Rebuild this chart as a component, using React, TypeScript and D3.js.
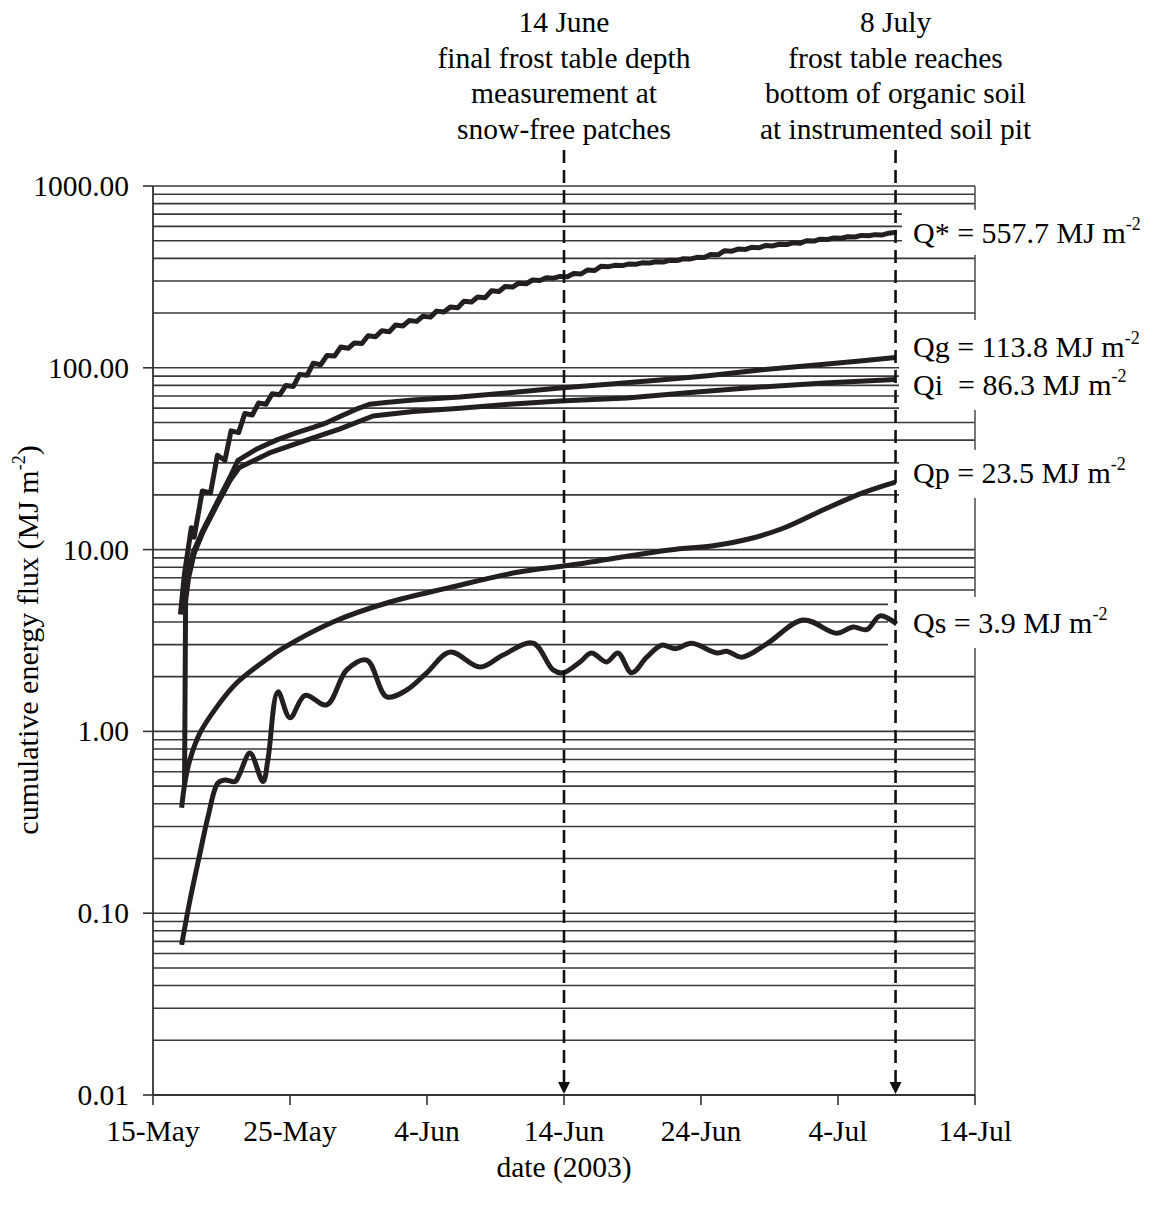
import React from 'react';
import * as d3 from 'd3';

// Cumulative energy fluxes, spring 2003. Each point is [days after 15 May, MJ m-2].
const qStar: [number, number][] = [
  [2.0, 4.4], [2.3, 7.4], [2.8, 13.2], [3.0, 11.7], [3.6, 21], [4.2, 20.5], [4.7, 33], [5.25, 31],
  [5.7, 45], [6.25, 44], [6.7, 56], [7.25, 55], [7.7, 64], [8.25, 63], [8.7, 72], [9.25, 71],
  [9.7, 80], [10.25, 79], [10.7, 92], [11.25, 91], [11.7, 106], [12.25, 104], [12.7, 117], [13.25, 116],
  [13.7, 130], [14.25, 128], [14.7, 137], [15.25, 136], [15.7, 150], [16.25, 148], [16.7, 160], [17.25, 158],
  [17.7, 172], [18.25, 170], [18.7, 182], [19.25, 180], [19.7, 192], [20.25, 190], [20.7, 205], [21.25, 203],
  [21.7, 216], [22.25, 214], [22.7, 232], [23.25, 230], [23.7, 245], [24.25, 243], [24.7, 265], [25.25, 263],
  [25.7, 280], [26.25, 278], [26.7, 292], [27.25, 290], [27.7, 304], [28.25, 302], [28.7, 313], [29.25, 311],
  [29.7, 318], [30.25, 317], [30.7, 330], [31.25, 328], [31.7, 345], [32.25, 343], [32.7, 362], [33.25, 360],
  [33.7, 366], [34.25, 365], [34.7, 372], [35.25, 371], [35.7, 378], [36.25, 377], [36.7, 383], [37.25, 382],
  [37.7, 390], [38.25, 389], [38.7, 398], [39.25, 397], [39.7, 405], [40.25, 404], [40.7, 420], [41.25, 418],
  [41.7, 440], [42.25, 438], [42.7, 450], [43.25, 448], [43.7, 460], [44.25, 458], [44.7, 470], [45.25, 468],
  [45.7, 478], [46.25, 476], [46.7, 487], [47.25, 485], [47.7, 500], [48.25, 498], [48.7, 510], [49.25, 508],
  [49.7, 518], [50.25, 516], [50.7, 526], [51.25, 524], [51.7, 535], [52.25, 533], [52.7, 540], [53.25, 538],
  [53.7, 550], [54.3, 557.7],
];

const qg: [number, number][] = [
  [2.15, 4.8], [2.46, 6.8], [2.92, 9.6], [3.65, 12.8], [4.65, 18], [5.62, 25], [6.2, 31], [7.5, 35.5],
  [9.0, 40], [10.5, 44], [11.7, 47], [12.7, 50], [13.65, 54], [14.8, 59], [15.8, 63], [17, 64.5],
  [19, 66.5], [22.4, 69], [26, 73], [29.7, 77.4], [33, 81], [37, 85.7], [40.5, 90.5], [44.3, 97.3],
  [48, 103], [51.6, 109], [54.2, 113.8],
];

const qi: [number, number][] = [
  [2.3, 0.5], [2.38, 5.2], [2.6, 7.0], [3.0, 9.5], [3.65, 12.5], [4.65, 17.5], [5.62, 24], [6.3, 28.3],
  [8.5, 34], [11.2, 40], [13.6, 46], [16.06, 54.3], [19, 57.5], [22.4, 60], [26, 63], [29.7, 65.6],
  [34.6, 68.2], [39, 73], [44.3, 78.4], [49, 82.5], [54.2, 86.3],
];

const qp: [number, number][] = [
  [2.09, 0.38], [2.34, 0.53], [2.7, 0.7], [3.43, 0.98], [4.65, 1.36], [6.12, 1.85], [8.54, 2.57],
  [9.49, 2.87], [13.14, 4.0], [17.3, 5.15], [21.7, 6.2], [26.6, 7.5], [30.4, 8.2], [37.7, 9.95],
  [40.9, 10.5], [43.4, 11.4], [46.0, 13.1], [48.9, 16.5], [51.8, 20.5], [54.2, 23.5],
];

const qs: [number, number][] = [
  [2.09, 0.067], [2.7, 0.118], [3.43, 0.214], [4.01, 0.338], [4.74, 0.52], [5.26, 0.54], [5.99, 0.53],
  [6.35, 0.59], [7.08, 0.76], [8.03, 0.53], [8.39, 0.7], [9.12, 1.65], [10.0, 1.19], [11.1, 1.58],
  [12.68, 1.4], [14.14, 2.18], [15.6, 2.47], [17.06, 1.55], [18.52, 1.69], [19.98, 2.1], [21.68, 2.73],
  [23.87, 2.26], [25.55, 2.63], [27.74, 3.06], [29.2, 2.18], [29.93, 2.1], [31.17, 2.41], [32.0, 2.7],
  [33.1, 2.41], [33.94, 2.7], [34.94, 2.1], [36.04, 2.56], [37.13, 2.98], [38.1, 2.85], [39.32, 3.05],
  [41.15, 2.7], [41.88, 2.76], [42.97, 2.56], [44.8, 3.03], [47.45, 4.1], [49.9, 3.47], [51.1, 3.75],
  [52.1, 3.63], [53.07, 4.32], [54.28, 3.9],
];

const xTickDays = [0, 10, 20, 30, 40, 50, 60];
const yTickValues = [0.01, 0.1, 1, 10, 100, 1000];

const markerDays = [30, 54.2];
const markerNotes = [
  ['14 June', 'final frost table depth', 'measurement at', 'snow-free patches'],
  ['8 July', 'frost table reaches', 'bottom of organic soil', 'at instrumented soil pit'],
];

const seriesNames = ['Q*', 'Qg', 'Qi ', 'Qp', 'Qs'];

const START = Date.UTC(2003, 4, 15);
const toDate = (d: number) => new Date(START + d * 864e5);

const FONT = '"Liberation Serif", "Times New Roman", serif';
const INK = '#231f20';

export default function App() {
  const left = 153, right = 975, top = 186, bottom = 1095;
  const x = d3.scaleUtc().domain([toDate(0), toDate(60)]).range([left, right]);
  const y = d3.scaleLog().domain([0.01, 1000]).range([bottom, top]);
  const fmtDate = d3.utcFormat('%-d-%b');
  const fmtY = d3.format('.2f');

  const gridValues: number[] = [];
  for (let e = -2; e < 3; e++) for (let m = 1; m < 10; m++) gridValues.push(m * Math.pow(10, e));
  gridValues.push(1000);

  const lineLinear = d3.line<[number, number]>().x(d => x(toDate(d[0]))).y(d => y(d[1]));
  const lineSmooth = d3.line<[number, number]>().x(d => x(toDate(d[0]))).y(d => y(d[1]))
    .curve(d3.curveCatmullRom.alpha(0.5));

  const series = [
    { data: qStar, path: lineLinear, baseline: 243 },
    { data: qg, path: lineLinear, baseline: 357 },
    { data: qi, path: lineLinear, baseline: 395 },
    { data: qp, path: lineSmooth, baseline: 483 },
    { data: qs, path: lineSmooth, baseline: 633 },
  ];

  // white panels behind the end-of-line labels
  const panels = [
    { x0: 902, y0: 210, y1: 255 },
    { x0: 899, y0: 320, y1: 410 },
    { x0: 899, y0: 450, y1: 498 },
    { x0: 888, y0: 597, y1: 648 },
  ];

  return (
    <svg width={1157} height={1211} style={{ position: 'absolute', left: 0, top: 0, background: '#fff' }}
      fontFamily={FONT}>
      <rect x={0} y={0} width={1157} height={1211} fill="#fff" />

      {/* horizontal grid at every log step */}
      {gridValues.map((v, i) => (
        <line key={i} x1={left} x2={right} y1={y(v)} y2={y(v)} stroke="#3a3a3a" strokeWidth={1.6} />
      ))}

      {/* frame and axes */}
      <line x1={left} x2={left} y1={top} y2={bottom} stroke="#333" strokeWidth={1.8} />
      <line x1={right} x2={right} y1={top} y2={bottom} stroke="#555" strokeWidth={1.6} />
      <line x1={left} x2={right} y1={bottom} y2={bottom} stroke="#333" strokeWidth={1.8} />
      {yTickValues.map(v => (
        <g key={v}>
          <line x1={left - 10} x2={left} y1={y(v)} y2={y(v)} stroke="#333" strokeWidth={1.6} />
          <text x={129} y={y(v) + 10} textAnchor="end" fontSize={29.5} fill="#000">{fmtY(v)}</text>
        </g>
      ))}
      {xTickDays.map(d => (
        <g key={d}>
          <line x1={x(toDate(d))} x2={x(toDate(d))} y1={bottom} y2={bottom + 10} stroke="#333" strokeWidth={1.6} />
          <text x={x(toDate(d))} y={1141} textAnchor="middle" fontSize={29.5} fill="#000">{fmtDate(toDate(d))}</text>
        </g>
      ))}

      <text x={564} y={1177} textAnchor="middle" fontSize={29.5} fill="#000">date (2003)</text>
      <text transform="translate(38,640) rotate(-90)" textAnchor="middle" fontSize={30} fill="#000">
        cumulative energy flux (MJ m<tspan fontSize={18} dy={-13}>-2</tspan><tspan dy={13}>)</tspan>
      </text>

      {panels.map((p, i) => (
        <rect key={i} x={p.x0} y={p.y0} width={1157 - p.x0} height={p.y1 - p.y0} fill="#fff" />
      ))}

      {/* cumulative flux curves */}
      {series.map((s, i) => (
        <path key={i} d={s.path(s.data) || ''} fill="none" stroke={INK} strokeWidth={5}
          strokeLinejoin="round" strokeLinecap="butt" />
      ))}

      {/* dated markers */}
      {markerDays.map((d, i) => {
        const mx = x(toDate(d));
        return (
          <g key={i}>
            <line x1={mx} x2={mx} y1={150} y2={bottom - 12} stroke="#111" strokeWidth={2.6} strokeDasharray="13 7" />
            <path d={`M${mx - 6},${bottom - 13}L${mx + 6},${bottom - 13}L${mx},${bottom - 1}Z`} fill="#111" />
            {markerNotes[i].map((t, j) => (
              <text key={j} x={mx} y={32 + j * 35.5} textAnchor="middle" fontSize={29.5} fill="#000">{t}</text>
            ))}
          </g>
        );
      })}

      {/* end-of-line totals */}
      {series.map((s, i) => {
        const last = s.data[s.data.length - 1][1];
        return (
          <text key={i} x={913} y={s.baseline} fontSize={30} fill="#000" style={{ whiteSpace: 'pre' }}>
            {`${seriesNames[i]} = ${last.toFixed(1)} MJ m`}
            <tspan fontSize={18} dy={-13}>-2</tspan>
          </text>
        );
      })}
    </svg>
  );
}
